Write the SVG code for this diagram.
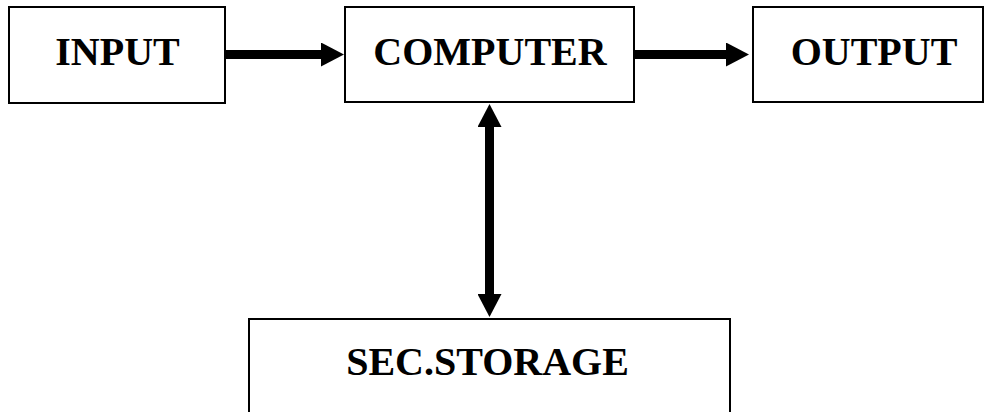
<svg xmlns="http://www.w3.org/2000/svg" width="985" height="412" viewBox="0 0 985 412">
  <style>
    .box { fill: #ffffff; stroke: #000000; stroke-width: 2; }
    .label { font-family: "Liberation Serif", "Times New Roman", serif; font-weight: bold; font-size: 40px; fill: #000000; text-anchor: middle; }
    .conn { stroke: #000000; stroke-width: 9; fill: none; }
  </style>
  <defs>
    <marker id="head" viewBox="0 0 23 24" markerUnits="userSpaceOnUse" markerWidth="23" markerHeight="24" refX="1" refY="12" orient="auto-start-reverse">
      <path d="M0,0 L23,12 L0,24 Z" fill="#000000"/>
    </marker>
  </defs>
  <rect width="985" height="412" fill="#ffffff"/>
  <g id="connectors">
    <line class="conn" x1="225" y1="54.5" x2="322" y2="54.5" marker-end="url(#head)"/>
    <line class="conn" x1="634" y1="54.5" x2="727" y2="54.5" marker-end="url(#head)"/>
    <line class="conn" x1="489.5" y1="126" x2="489.5" y2="295" marker-start="url(#head)" marker-end="url(#head)"/>
  </g>
  <g id="node-input">
    <rect class="box" x="9" y="7" width="216" height="96"/>
    <text class="label" x="117.5" y="65">INPUT</text>
  </g>
  <g id="node-computer">
    <rect class="box" x="345" y="7" width="289" height="95"/>
    <text class="label" x="490" y="65">COMPUTER</text>
  </g>
  <g id="node-output">
    <rect class="box" x="753" y="7" width="230" height="95"/>
    <text class="label" x="874" y="65">OUTPUT</text>
  </g>
  <g id="node-storage">
    <rect class="box" x="249" y="319" width="481" height="110"/>
    <text class="label" x="487.5" y="375">SEC.STORAGE</text>
  </g>
</svg>
